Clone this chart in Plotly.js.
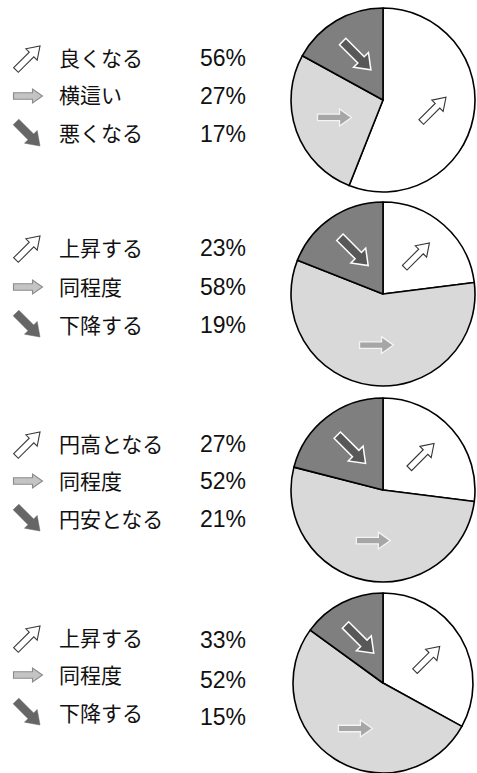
<!DOCTYPE html>
<html>
<head>
<meta charset="utf-8">
<script src="https://cdn.plot.ly/plotly-3.0.1.min.js"></script>
<style>
html,body{margin:0;padding:0;background:#fff;}
#chart{width:477px;height:773px;}
</style>
</head>
<body>
<div id="chart"></div>
<script>
// ---- data ----
const labels1 = ['良くなる', '横這い', '悪くなる'];
const values1 = [56, 27, 17];
const labels2 = ['上昇する', '同程度', '下降する'];
const values2 = [23, 58, 19];
const labels3 = ['円高となる', '同程度', '円安となる'];
const values3 = [27, 52, 21];
const labels4 = ['上昇する', '同程度', '下降する'];
const values4 = [33, 52, 15];

// ---- layout constants (pixels) ----
const W = 477, H = 773;
const groups = [
  {labels: labels1, values: values1, cx: 383, cy: 100, r: 92, rows: [58, 96, 134], prow: [58, 96, 134]},
  {labels: labels2, values: values2, cx: 383, cy: 294, r: 92, rows: [248, 287, 325], prow: [248, 287, 325]},
  {labels: labels3, values: values3, cx: 383, cy: 490, r: 92, rows: [444, 481, 519], prow: [444, 481, 519]},
  {labels: labels4, values: values4, cx: 383, cy: 685, r: 92, rows: [638, 675, 713], prow: [640, 680, 717]}
];
const sliceColors = ['#ffffff', '#d9d9d9', '#7f7f7f'];
const FONT = '"Liberation Sans", Arial, "Noto Sans CJK JP", sans-serif';

const px = x => x / W;
const py = y => 1 - y / H;

// arrow shape (screen px), angle in degrees, clockwise from +x
function arrowPath(cx, cy, ang, L, sw, hw, hl) {
  const pts = [[-L/2, -sw/2], [L/2 - hl, -sw/2], [L/2 - hl, -hw/2], [L/2, 0],
               [L/2 - hl, hw/2], [L/2 - hl, sw/2], [-L/2, sw/2]];
  const a = ang * Math.PI / 180, c = Math.cos(a), s = Math.sin(a);
  return pts.map((p, i) => {
    const x = cx + p[0]*c - p[1]*s, y = cy + p[0]*s + p[1]*c;
    return (i ? 'L' : 'M') + px(x).toFixed(5) + ',' + py(y).toFixed(5);
  }).join(' ') + ' Z';
}

const legendIcons = [
  {ang: -45, L: 34, sw: 6.5, hw: 16, hl: 12, fill: '#ffffff', line: '#3a3a3a', lw: 1.1},
  {ang: 0, L: 29, sw: 6.5, hw: 14, hl: 10, fill: '#c4c4c4', line: '#8a8a8a', lw: 1.1},
  {ang: 45, L: 34, sw: 8, hw: 18, hl: 13, fill: '#666666', line: '#666666', lw: 0.5}
];
const pieIcons = [
  {ang: -45, L: 35, sw: 6.5, hw: 16, hl: 12, fill: '#ffffff', line: '#333333', lw: 1.1},
  {ang: 0, L: 34, sw: 6.5, hw: 17, hl: 12, fill: '#a6a6a6', line: '#f4f4f4', lw: 1.3},
  {ang: 45, L: 40, sw: 9, hw: 21, hl: 14, fill: '#585858', line: '#ffffff', lw: 1.5}
];

const traces = [];
const shapes = [];
const annotations = [];

groups.forEach(g => {
  traces.push({
    type: 'pie',
    labels: g.labels,
    values: g.values,
    sort: false,
    direction: 'clockwise',
    rotation: 0,
    textinfo: 'none',
    hoverinfo: 'none',
    showlegend: false,
    marker: {colors: sliceColors, line: {color: '#000000', width: 1.6}},
    domain: {x: [px(g.cx - g.r), px(g.cx + g.r)], y: [py(g.cy + g.r), py(g.cy - g.r)]}
  });

  // slice icons at mid-angle of each slice
  const total = g.values.reduce((a, b) => a + b, 0);
  let acc = 0;
  g.values.forEach((v, i) => {
    const mid = (acc + v / 2) / total * 2 * Math.PI; // clockwise from 12 o'clock
    acc += v;
    const rr = g.r * 0.56;
    const ix = g.cx + rr * Math.sin(mid), iy = g.cy - rr * Math.cos(mid);
    const st = pieIcons[i];
    shapes.push({type: 'path', xref: 'paper', yref: 'paper',
      path: arrowPath(ix, iy, st.ang, st.L, st.sw, st.hw, st.hl),
      fillcolor: st.fill, line: {color: st.line, width: st.lw}});
  });

  // legend rows
  g.labels.forEach((lab, i) => {
    const st = legendIcons[i];
    shapes.push({type: 'path', xref: 'paper', yref: 'paper',
      path: arrowPath(28, g.rows[i], st.ang, st.L, st.sw, st.hw, st.hl),
      fillcolor: st.fill, line: {color: st.line, width: st.lw}});
    annotations.push({xref: 'paper', yref: 'paper', x: px(57), y: py(g.rows[i]),
      xanchor: 'left', yanchor: 'middle', showarrow: false, text: lab,
      font: {family: FONT, size: 21, color: '#111111'}});
    annotations.push({xref: 'paper', yref: 'paper', x: px(248), y: py(g.prow[i]),
      xanchor: 'right', yanchor: 'middle', showarrow: false, text: g.values[i] + '%',
      font: {family: FONT, size: 23, color: '#111111'}});
  });
});

const layout = {
  width: W, height: H,
  margin: {l: 0, r: 0, t: 0, b: 0},
  paper_bgcolor: '#ffffff',
  plot_bgcolor: '#ffffff',
  font: {family: FONT},
  shapes: shapes,
  annotations: annotations
};

Plotly.newPlot('chart', traces, layout, {staticPlot: true, displayModeBar: false});
</script>
</body>
</html>
